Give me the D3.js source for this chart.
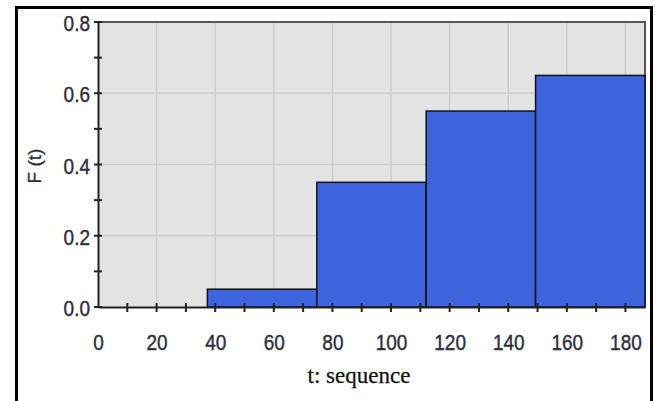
<html>
<head>
  <script src="https://cdnjs.cloudflare.com/ajax/libs/d3/7.8.5/d3.min.js"></script>
  <style>
    body { margin: 0; background: #fff; }
  </style>
</head>
<body>
<script type="text/javascript">
  // bin edges and F(t) heights
  var binEdges = [37.33, 74.67, 112, 149.33, 186.67];
  var fValues = [0.05, 0.35, 0.55, 0.65];
  var xTickLabels = [0, 20, 40, 60, 80, 100, 120, 140, 160, 180];
  var yTickLabels = [0.0, 0.2, 0.4, 0.6, 0.8];

  var width = 664, height = 401;
  var plotLeft = 98, plotRight = 645, plotTop = 22, plotBottom = 307;

  var svg = d3.select("body").append("svg")
    .attr("width", width)
    .attr("height", height);

  // outer frame
  svg.append("rect")
    .attr("x", 16.5).attr("y", 7.5)
    .attr("width", 635).attr("height", 420)
    .attr("fill", "none")
    .attr("stroke", "#000")
    .attr("stroke-width", 3);

  var x = d3.scaleLinear().domain([0, 186.67]).range([plotLeft, plotRight]);
  var y = d3.scaleLinear().domain([0, 0.8]).range([plotBottom, plotTop]);

  // plot background
  svg.append("rect")
    .attr("x", plotLeft).attr("y", plotTop)
    .attr("width", plotRight - plotLeft).attr("height", plotBottom - plotTop)
    .attr("fill", "#e3e3e3");

  // grid
  svg.append("g").selectAll("line")
    .data(xTickLabels.slice(1))
    .enter().append("line")
    .attr("x1", function (d) { return x(d); })
    .attr("x2", function (d) { return x(d); })
    .attr("y1", plotTop).attr("y2", plotBottom)
    .attr("stroke", "#cdcdcd").attr("stroke-width", 1.5);

  svg.append("g").selectAll("line")
    .data(yTickLabels.slice(1))
    .enter().append("line")
    .attr("y1", function (d) { return y(d); })
    .attr("y2", function (d) { return y(d); })
    .attr("x1", plotLeft).attr("x2", plotRight)
    .attr("stroke", "#cdcdcd").attr("stroke-width", 1.5);

  // plot border top / right
  svg.append("path")
    .attr("d", "M" + plotLeft + "," + plotTop + "H" + plotRight + "V" + plotBottom)
    .attr("fill", "none")
    .attr("stroke", "#555")
    .attr("stroke-width", 2);

  // bars
  svg.append("g").selectAll("rect")
    .data(fValues)
    .enter().append("rect")
    .attr("x", function (d, i) { return x(binEdges[i]); })
    .attr("width", function (d, i) { return x(binEdges[i + 1]) - x(binEdges[i]); })
    .attr("y", function (d) { return y(d); })
    .attr("height", function (d) { return y(0) - y(d); })
    .attr("fill", "#3e64de")
    .attr("stroke", "#111")
    .attr("stroke-width", 1.5);

  // minor ticks crossing the axes
  svg.append("g").selectAll("line")
    .data(d3.range(0, 0.81, 0.1))
    .enter().append("line")
    .attr("x1", plotLeft - 4).attr("x2", plotLeft + 4)
    .attr("y1", function (d) { return y(d); })
    .attr("y2", function (d) { return y(d); })
    .attr("stroke", "#222").attr("stroke-width", 2);

  svg.append("g").selectAll("line")
    .data(d3.range(10, 181, 10))
    .enter().append("line")
    .attr("y1", plotBottom - 4).attr("y2", plotBottom + 5)
    .attr("x1", function (d) { return x(d); })
    .attr("x2", function (d) { return x(d); })
    .attr("stroke", "#222").attr("stroke-width", 2);

  // axes
  var xAxis = svg.append("g")
    .attr("transform", "translate(0," + plotBottom + ")")
    .call(d3.axisBottom(x).tickValues(xTickLabels).tickSize(0).tickSizeOuter(0));

  var yAxis = svg.append("g")
    .attr("transform", "translate(" + plotLeft + ",0)")
    .call(d3.axisLeft(y).tickValues(yTickLabels).tickFormat(d3.format(".1f")).tickSize(0).tickSizeOuter(0));

  [xAxis, yAxis].forEach(function (a) {
    a.select(".domain").attr("stroke", "#222").attr("stroke-width", 2);
    a.selectAll("text")
      .attr("font-family", "Liberation Sans, Arial, sans-serif")
      .attr("font-size", 19)
      .attr("fill", "#2e2e3a")
      .attr("stroke", "#2e2e3a")
      .attr("stroke-width", 0.35)
      .attr("transform", "scale(1,1.2)");
  });

  xAxis.selectAll("text").attr("y", 35.5).attr("dy", 0);
  yAxis.selectAll("text").attr("x", -8).attr("dy", "0.38em");

  // axis titles
  svg.append("text")
    .attr("x", 359)
    .attr("y", 383)
    .attr("text-anchor", "middle")
    .attr("font-family", "Liberation Serif, Times New Roman, serif")
    .attr("font-size", 23)
    .attr("fill", "#111")
    .attr("stroke", "#111")
    .attr("stroke-width", 0.25)
    .text("t: sequence");

  svg.append("text")
    .attr("transform", "translate(41,166) rotate(-90)")
    .attr("text-anchor", "middle")
    .attr("font-family", "Liberation Sans, Arial, sans-serif")
    .attr("font-size", 19)
    .attr("fill", "#2e2e3a")
    .attr("stroke", "#2e2e3a")
    .attr("stroke-width", 0.3)
    .text("F (t)");
</script>
</body>
</html>
